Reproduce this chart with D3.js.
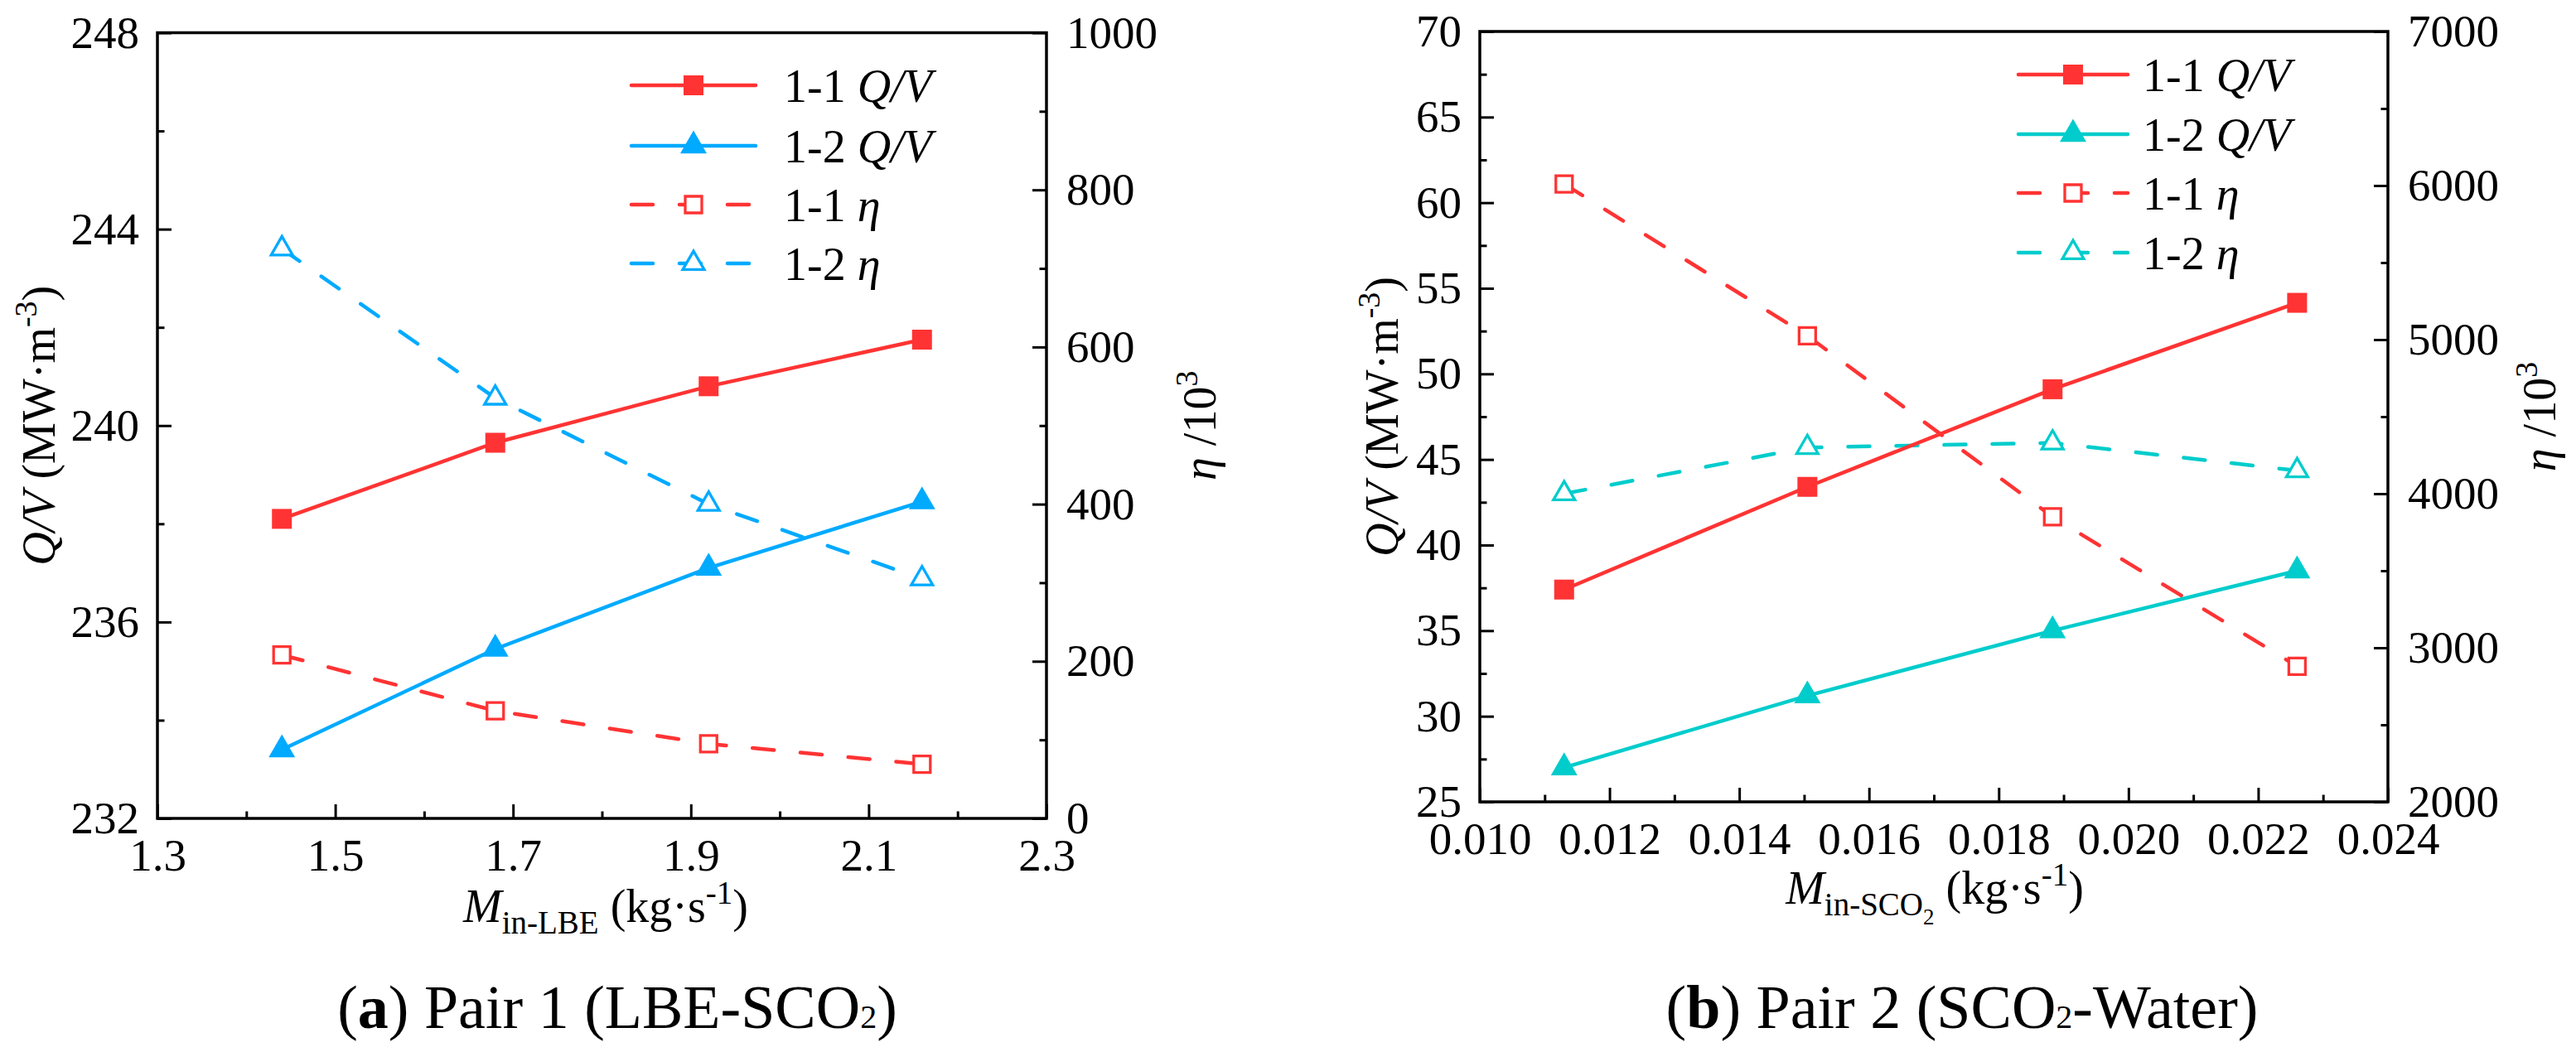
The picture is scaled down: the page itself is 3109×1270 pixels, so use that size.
<!DOCTYPE html>
<html><head><meta charset="utf-8">
<script src="https://cdn.jsdelivr.net/npm/d3@7/dist/d3.min.js"></script>
<style>
body{margin:0;background:#fff}
svg text{font-family:"Liberation Serif","Times New Roman",serif !important;fill:#000}
</style>
</head><body>
<svg id="c" width="3109" height="1270" font-family="Liberation Serif, Times New Roman, serif"></svg>
<script>
// ---------------- DATA ----------------
// Panel (a) Pair 1 (LBE-SCO2)
const xA = [1.44, 1.68, 1.92, 2.16];
const qvA_11 = [238.1, 239.65, 240.8, 241.75];
const qvA_12 = [233.4, 235.45, 237.1, 238.45];
const etaA_11 = [208, 137, 95, 69];
const etaA_12 = [725, 535, 400, 305];
const xTicksA = [1.3, 1.5, 1.7, 1.9, 2.1, 2.3];
const yTicksA = [232, 236, 240, 244, 248];
const y2TicksA = [0, 200, 400, 600, 800, 1000];

// Panel (b) Pair 2 (SCO2-Water)
const xB = [0.0113, 0.01505, 0.01883, 0.0226];
const qvB_11 = [37.4, 43.4, 49.1, 54.15];
const qvB_12 = [27.0, 31.2, 35.0, 38.5];
const etaB_11 = [6010, 5025, 3850, 2880];
const etaB_12 = [4000, 4300, 4330, 4150];
const xTicksB = [0.010, 0.012, 0.014, 0.016, 0.018, 0.020, 0.022, 0.024];
const yTicksB = [25, 30, 35, 40, 45, 50, 55, 60, 65, 70];
const y2TicksB = [2000, 3000, 4000, 5000, 6000, 7000];

const seriesNames = ["1-1", "1-2", "1-1", "1-2"];
const seriesVars = ["Q/V", "Q/V", "η", "η"];

// ---------------- LAYOUT / STYLE ----------------
const FONT = "Liberation Serif, Times New Roman, serif";
const RED = "#FF3333";
const svg = d3.select("#c");
svg.append("rect").attr("width", 3109).attr("height", 1270).attr("fill", "#fff");

const panels = [
  {
    x: xA, series: [qvA_11, qvA_12, etaA_11, etaA_12], c2: "#00AAFF",
    xd: [1.3, 2.3], yd: [232, 248], y2d: [0, 1000],
    xt: xTicksA, yt: yTicksA, y2t: y2TicksA, xf: d3.format(".1f"),
    L: 190, R: 1263, T: 39.5, B: 988,
    legX0: 762, legX1: 912, legTx: 946, legY: [103, 176, 247, 318],
    yLabX: 66, y2LabX: 1467, xLabX: 731, xLabY: 1113,
    xSub: "in-LBE", xSub2: null,
    capX: 745, capL: "a", capP: "Pair 1 (LBE-SCO", capS: ")"
  },
  {
    x: xB, series: [qvB_11, qvB_12, etaB_11, etaB_12], c2: "#00CCCC",
    xd: [0.010, 0.024], yd: [25, 70], y2d: [2000, 7000],
    xt: xTicksB, yt: yTicksB, y2t: y2TicksB, xf: d3.format(".3f"),
    L: 1786, R: 2882, T: 38, B: 968,
    legX0: 2436, legX1: 2568, legTx: 2586, legY: [90, 162, 233, 305],
    yLabX: 1687, y2LabX: 3084, xLabX: 2335, xLabY: 1091,
    xSub: "in-SCO", xSub2: "2",
    capX: 2368, capL: "b", capP: "Pair 2 (SCO", capS: "-Water)"
  }
];

const FS = 55;
panels.forEach(p => {
  const g = svg.append("g").attr("font-family", FONT);
  const x = d3.scaleLinear().domain(p.xd).range([p.L, p.R]);
  const y = d3.scaleLinear().domain(p.yd).range([p.B, p.T]);
  const y2 = d3.scaleLinear().domain(p.y2d).range([p.B, p.T]);
  const mid = arr => d3.pairs(arr, (a, b) => (a + b) / 2);
  const intF = d3.format("d");

  function styleAxis(sel) {
    sel.attr("font-size", FS).attr("font-family", FONT);
    sel.select(".domain").remove();
    sel.selectAll(".tick line").attr("stroke", "#000").attr("stroke-width", 3);
    sel.selectAll(".tick text").attr("fill", "#000").attr("font-family", FONT);
  }
  // major + minor axes
  g.append("g").attr("transform", `translate(0,${p.B})`)
    .call(d3.axisBottom(x).tickValues(p.xt).tickFormat(p.xf).tickSize(-17).tickPadding(24).tickSizeOuter(0))
    .call(styleAxis);
  g.append("g").attr("transform", `translate(0,${p.B})`)
    .call(d3.axisBottom(x).tickValues(mid(p.xt)).tickFormat("").tickSize(-8.5).tickSizeOuter(0))
    .call(styleAxis);
  g.append("g").attr("transform", `translate(${p.L},0)`)
    .call(d3.axisLeft(y).tickValues(p.yt).tickFormat(intF).tickSize(-17).tickPadding(22).tickSizeOuter(0))
    .call(styleAxis);
  g.append("g").attr("transform", `translate(${p.L},0)`)
    .call(d3.axisLeft(y).tickValues(mid(p.yt)).tickFormat("").tickSize(-8.5).tickSizeOuter(0))
    .call(styleAxis);
  g.append("g").attr("transform", `translate(${p.R},0)`)
    .call(d3.axisRight(y2).tickValues(p.y2t).tickFormat(intF).tickSize(-17).tickPadding(24).tickSizeOuter(0))
    .call(styleAxis);
  g.append("g").attr("transform", `translate(${p.R},0)`)
    .call(d3.axisRight(y2).tickValues(mid(p.y2t)).tickFormat("").tickSize(-8.5).tickSizeOuter(0))
    .call(styleAxis);

  // frame
  g.append("rect").attr("x", p.L).attr("y", p.T).attr("width", p.R - p.L).attr("height", p.B - p.T)
    .attr("fill", "none").attr("stroke", "#000").attr("stroke-width", 3.5);

  const defs = [
    { sc: y, col: RED, dash: null, sym: d3.symbolSquare, size: 576, open: false },
    { sc: y, col: p.c2, dash: null, sym: d3.symbolTriangle, size: 443, open: false },
    { sc: y2, col: RED, dash: "26 32", sym: d3.symbolSquare, size: 400, open: true },
    { sc: y2, col: p.c2, dash: "26 32", sym: d3.symbolTriangle, size: 290, open: true }
  ];

  function marker(sel, d, cx, cy) {
    sel.append("path").attr("d", d3.symbol().type(d.sym).size(d.size)())
      .attr("transform", `translate(${cx},${cy})`)
      .attr("fill", d.open ? "#fff" : d.col)
      .attr("stroke", d.open ? d.col : "none")
      .attr("stroke-width", d.open ? 3.3 : 0);
  }

  // series
  [3, 2, 1, 0].forEach(i => {
    const d = defs[i];
    const vals = p.series[i];
    const line = d3.line().x((v, k) => x(p.x[k])).y(v => d.sc(v));
    g.append("path").attr("d", line(vals)).attr("fill", "none")
      .attr("stroke", d.col).attr("stroke-width", 4.5)
      .attr("stroke-linecap", "round")
      .attr("stroke-dasharray", d.dash);
    vals.forEach((v, k) => marker(g, d, x(p.x[k]), d.sc(v)));
  });

  // legend
  defs.forEach((d, i) => {
    const ly = p.legY[i];
    g.append("line").attr("x1", p.legX0).attr("x2", p.legX1).attr("y1", ly).attr("y2", ly)
      .attr("stroke", d.col).attr("stroke-width", 4.5).attr("stroke-linecap", "round")
      .attr("stroke-dasharray", d.dash);
    marker(g, d, p.legX0 + (p.legX1 - p.legX0) / 2, ly);
    const t = g.append("text").attr("x", p.legTx).attr("y", ly + 20).attr("font-size", 56);
    t.append("tspan").text(seriesNames[i] + " ");
    t.append("tspan").attr("font-style", "italic").text(seriesVars[i]);
  });

  // left axis title
  const yl = g.append("text").attr("transform", `translate(${p.yLabX},${(p.T + p.B) / 2}) rotate(-90)`)
    .attr("text-anchor", "middle").attr("font-size", 56);
  yl.append("tspan").attr("font-style", "italic").text("Q/V");
  yl.append("tspan").text(" (MW·m");
  yl.append("tspan").attr("font-size", 38).attr("dy", -22).text("-3");
  yl.append("tspan").attr("dy", 22).text(")");

  // right axis title
  const y2l = g.append("text").attr("transform", `translate(${p.y2LabX},${(p.T + p.B) / 2}) rotate(-90)`)
    .attr("text-anchor", "middle").attr("font-size", 56);
  y2l.append("tspan").attr("font-style", "italic").text("η");
  y2l.append("tspan").text(" /10");
  y2l.append("tspan").attr("font-size", 38).attr("dy", -22).text("3");

  // x axis title
  const xl = g.append("text").attr("x", p.xLabX).attr("y", p.xLabY).attr("text-anchor", "middle").attr("font-size", 56);
  xl.append("tspan").attr("font-style", "italic").text("M");
  xl.append("tspan").attr("font-size", 39).attr("dy", 14).text(p.xSub);
  let back = 14;
  if (p.xSub2) {
    xl.append("tspan").attr("font-size", 27).attr("dy", 11).text(p.xSub2);
    back += 11;
  }
  xl.append("tspan").attr("dy", -back).text(" (kg·s");
  xl.append("tspan").attr("font-size", 39).attr("dy", -22).text("-1");
  xl.append("tspan").attr("dy", 22).text(")");

  // caption
  const cap = g.append("text").attr("x", p.capX).attr("y", 1241).attr("text-anchor", "middle").attr("font-size", 74);
  cap.append("tspan").text("(");
  cap.append("tspan").attr("font-weight", "bold").text(p.capL);
  cap.append("tspan").text(") " + p.capP);
  cap.append("tspan").attr("font-size", 40).text("2");
  cap.append("tspan").text(p.capS);
});
</script>
</body></html>
